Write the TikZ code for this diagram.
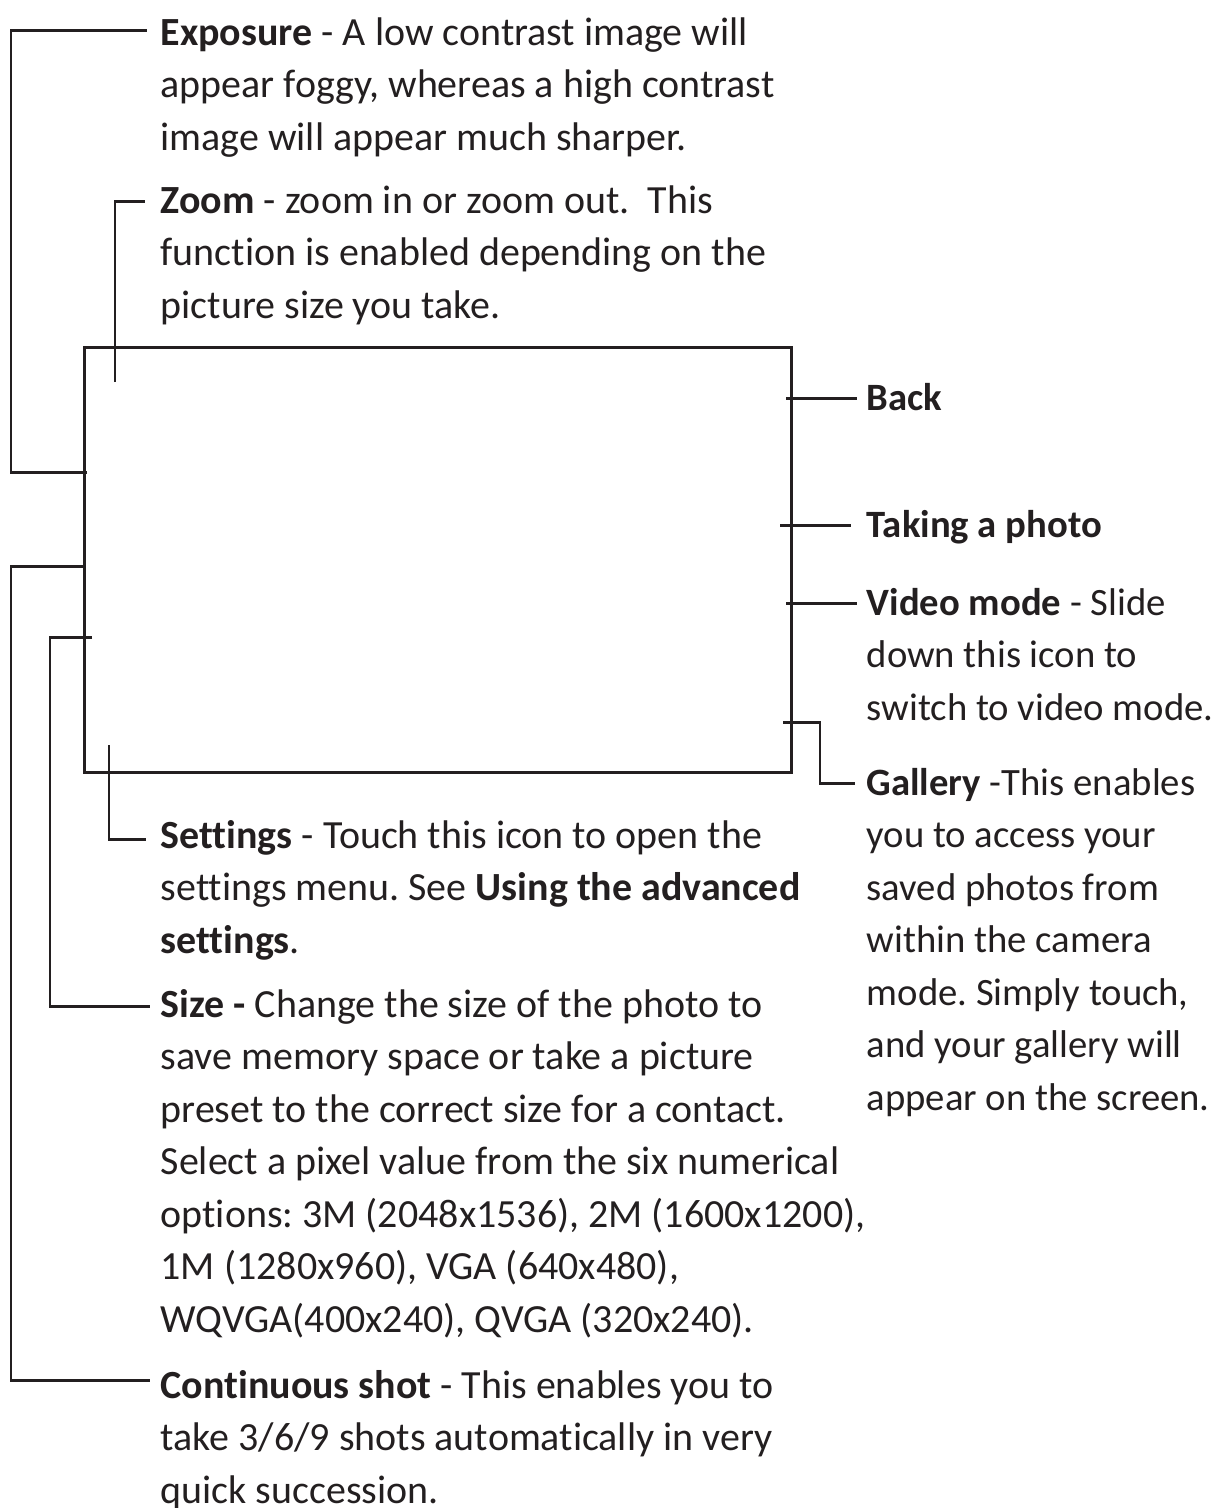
\documentclass[tikz,border=0pt]{standalone}
\usepackage{fontspec}
\setmainfont{Carlito}[Ligatures=NoCommon]
\usepackage{tikz}
\usetikzlibrary{calc,positioning}
\definecolor{ink}{HTML}{231F20}
\frenchspacing
\newcommand{\lines}[1]{\begin{tabular}[t]{@{}l@{}}#1\end{tabular}}
\tikzset{lbl/.style={anchor=base west,inner sep=0pt,text=ink,font=\fontsize{11.36pt}{14.94pt}\selectfont},
  rlbl/.style={lbl,font=\fontsize{11pt}{14.94pt}\selectfont},
  lead/.style={draw=ink,line width=0.85pt},
  screen/.style={draw=ink,line width=0.85pt,inner sep=0pt,minimum width=7.07cm,minimum height=4.25cm,anchor=north west}}

\begin{document}
\begin{tikzpicture}[x=0.01cm,y=-0.01cm]
\useasboundingbox (0,0) rectangle (1218,1508);
\node[screen] (scr) at (83,346) {};
% labels, left column
\node[lbl] (expo) at (160,45) {\lines{\textbf{Exposure} - A low contrast image will\\appear foggy, whereas a high contrast\\image will appear much sharper.}};
\node[lbl] (zoom) at (160,213) {\lines{\textbf{Zoom} - zoom in or zoom out.\ \ This\\function is enabled depending on the\\picture size you take.}};
\node[lbl] (sett) at (160,848) {\lines{\textbf{Settings} - Touch this icon to open the\\settings menu. See \textbf{Using the advanced}\\\textbf{settings}.}};
\node[lbl] (size) at (160,1017) {\lines{\textbf{Size -} Change the size of the photo to\\save memory space or take a picture\\preset to the correct size for a contact.\\Select a pixel value from the six numerical\\options: 3M (2048x1536), 2M (1600x1200),\\1M (1280x960), VGA (640x480),\\WQVGA(400x240), QVGA (320x240).}};
\node[lbl] (cont) at (160,1398) {\lines{\textbf{Continuous shot} - This enables you to\\take 3/6/9 shots automatically in very\\quick succession.}};
% labels, right column
\node[rlbl] (back) at (866,410) {\textbf{Back}};
\node[rlbl] (photo) at (866,537) {\textbf{Taking a photo}};
\node[rlbl] (video) at (866,615) {\lines{\textbf{Video mode} - Slide\\down this icon to\\switch to video mode.}};
\node[rlbl] (gall) at (866,795) {\lines{\textbf{Gallery} -This enables\\you to access your\\saved photos from\\within the camera\\mode. Simply touch,\\and your gallery will\\appear on the screen.}};
% pins on the screen edge
\coordinate (expo-pin) at (87,472);
\coordinate (zoom-pin) at (115,382);
\coordinate (cont-pin) at (85,566);
\coordinate (size-pin) at (92,637);
\coordinate (sett-pin) at (109,745);
\coordinate (back-pin) at (786,398);
\coordinate (photo-pin) at (780,525);
\coordinate (video-pin) at (786,603);
\coordinate (gall-pin) at (783,722);
% leader lines
\draw[lead] (expo-pin) -- (11,472) |- ($(expo.base west)+(-13,-15)$);
\draw[lead] (zoom-pin) |- ($(zoom.base west)+(-15,-12)$);
\draw[lead] (sett-pin) |- ($(sett.base west)+(-14,-9)$);
\draw[lead] (size-pin) -- (50,637) |- ($(size.base west)+(-10,-11)$);
\draw[lead] (cont-pin) -- (11,566) |- ($(cont.base west)+(-10,-18)$);
\draw[lead] (back-pin) -- ($(back.base west)+(-9,-12)$);
\draw[lead] (photo-pin) -- ($(photo.base west)+(-15,-12)$);
\draw[lead] (video-pin) -- ($(video.base west)+(-9,-12)$);
\draw[lead] (gall-pin) -- (820,722) |- ($(gall.base west)+(-11,-12)$);
\end{tikzpicture}
\end{document}
